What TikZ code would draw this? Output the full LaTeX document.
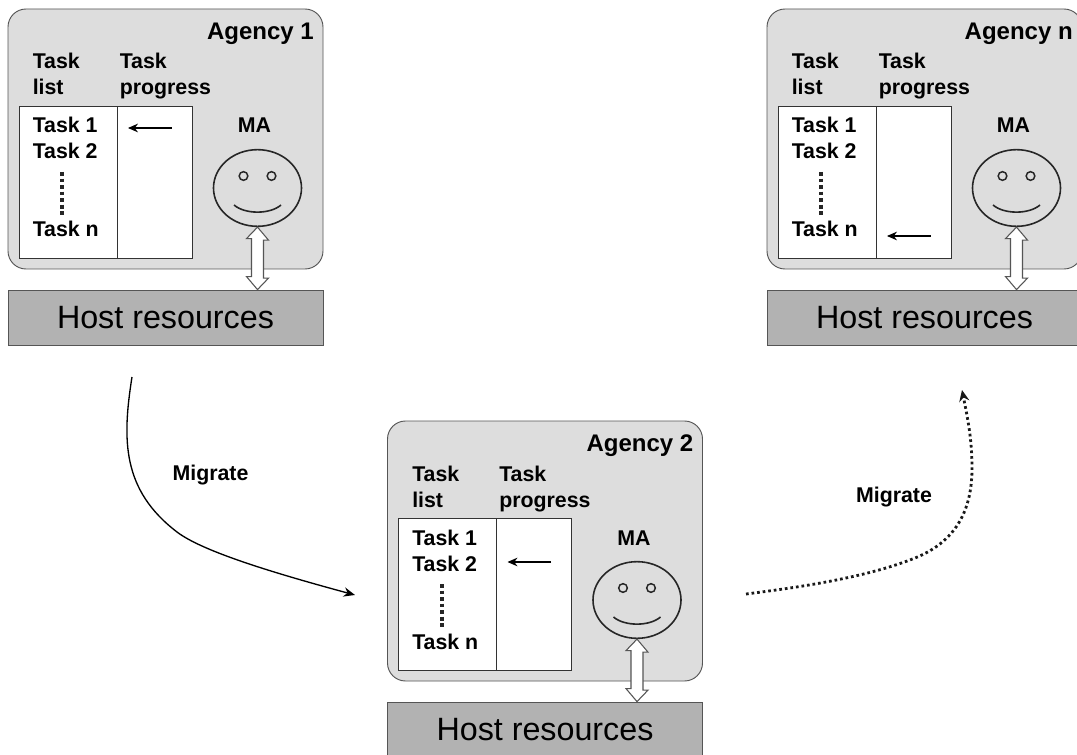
\documentclass[tikz,border=0pt]{standalone}
\usepackage{fontspec}
\setmainfont{Liberation Sans}
\usetikzlibrary{arrows.meta,calc,shapes.geometric}
\definecolor{panel}{HTML}{DDDDDD}
\definecolor{hostc}{HTML}{B2B2B2}
\definecolor{edge}{HTML}{555555}
\tikzset{
  x=0.75pt,y=-0.75pt,
  agencybox/.style={draw=edge,fill=panel,line width=0.7pt,rounded corners=13.5pt,inner sep=0pt,minimum width=236.25pt,minimum height=195pt},
  hostbox/.style={draw=edge,fill=hostc,line width=0.6pt,inner sep=0pt,minimum width=236.25pt,minimum height=41.25pt,font=\fontsize{24.2}{28}\selectfont},
  tablebox/.style={draw=black!80,fill=white,line width=0.7pt,inner sep=0pt},
  lab/.style={font=\bfseries\fontsize{16}{19}\selectfont,inner sep=0pt,anchor=base west},
  title/.style={font=\bfseries\fontsize{18}{22}\selectfont,inner sep=0pt,anchor=base east},
  facec/.style={draw=black!85,line width=1.2pt,ellipse},
  eyec/.style={draw=black!85,line width=1.1pt,circle,minimum size=6.5pt,inner sep=0pt},
  migr/.style={font=\bfseries\fontsize{16}{19}\selectfont,inner sep=0pt},
  ptr/.style={-{Stealth[length=7.5pt,width=6.5pt]},line width=0.8pt,black},
  dbl/.style={draw=edge,fill=white,line width=0.8pt,line join=miter},
}
% #1 id, #2 dx, #3 dy, #4 title, #5 ptr y
\newcommand{\agencygroup}[5]{%
\begin{scope}[shift={(#2,#3)}]
  \node[agencybox] (box#1) at (165.5,139) {};
  \node[hostbox] (host#1) at (165.5,317.5) {\raisebox{-1pt}{Host resources}};
  \node[title] (title#1) at (314,39.5) {#4};
  \node[lab] (tl#1a) at (32.5,69) {Task};
  \node[lab] (tl#1b) at (32.5,95) {list};
  \node[lab] (tp#1a) at (119.5,69) {Task};
  \node[lab] (tp#1b) at (119.5,95) {progress};
  \node[tablebox,minimum width=73.5pt,minimum height=114pt] (tab#1) at (68,182) {};
  \node[tablebox,minimum width=56.5pt,minimum height=114pt] (prog#1) at (154.75,182) {};
  \node[lab] (t#1a) at (32.5,133) {Task 1};
  \node[lab] (t#1b) at (32.5,159) {Task 2};
  \node[lab] (t#1n) at (32.5,237) {Task n};
  \coordinate (da#1) at (62,172);
  \coordinate (db#1) at (62,215);
  \draw[line width=3pt,black!85,dash pattern=on 2.9pt off 2pt] (da#1) -- (db#1);
  \coordinate (ps#1) at (171.5,#5);
  \coordinate (pe#1) at (128,#5);
  \draw[ptr] (ps#1) -- (pe#1);
  \node[lab,anchor=base] (ma#1) at (254.5,133) {MA};
  \node[facec,inner sep=0pt,minimum width=66pt,minimum height=57.5pt] (face#1) at (257.5,188) {};
  \node[eyec] (el#1) at (243.5,176) {};
  \node[eyec] (er#1) at (271.5,176) {};
  \coordinate (sl#1) at (234,205);
  \coordinate (sr#1) at (281,205);
  \draw[line width=1.2pt,black!85] (sl#1) .. controls (245,214.5) and (270,214.5) .. (sr#1);
  \draw[dbl] (face#1.south) -- ++(11,13) -- ++(-5,0) -- ++(0,38) -- ++(5,0) -- (face#1.south |- host#1.north) -- ++(-11,-13) -- ++(5,0) -- ++(0,-38) -- ++(-5,0) -- cycle;
\end{scope}}
\begin{document}
\begin{tikzpicture}
\clip (0,0) rectangle (1077,755);
\fill[white] (0,0) rectangle (1077,755);
\agencygroup{1}{0}{0}{Agency 1}{128}
\agencygroup{2}{379.5}{412}{Agency 2}{150}
\agencygroup{3}{759}{0}{Agency n}{236}
\coordinate (m1s) at (132,377);
\coordinate (m1e) at (355,595);
\coordinate (m2s) at (746,594);
\coordinate (m2e) at (962,390);
\draw[-{Stealth[length=8.5pt,width=7pt]},line width=1pt,black] (m1s) .. controls (122,440) and (122,490) .. (177,532) .. controls (202,551) and (270,572) .. (m1e);
\draw[-{Stealth[length=8.5pt,width=7.5pt]},line width=2.1pt,black!90,dash pattern=on 2pt off 2.2pt] (m2s) .. controls (810,586) and (870,576) .. (915,558) .. controls (960,540) and (972,505) .. (972,468) .. controls (972,440) and (968,420) .. (m2e);
\node[migr] (l1) at (210.5,475) {Migrate};
\node[migr] (l2) at (894,497) {Migrate};
\end{tikzpicture}
\end{document}
